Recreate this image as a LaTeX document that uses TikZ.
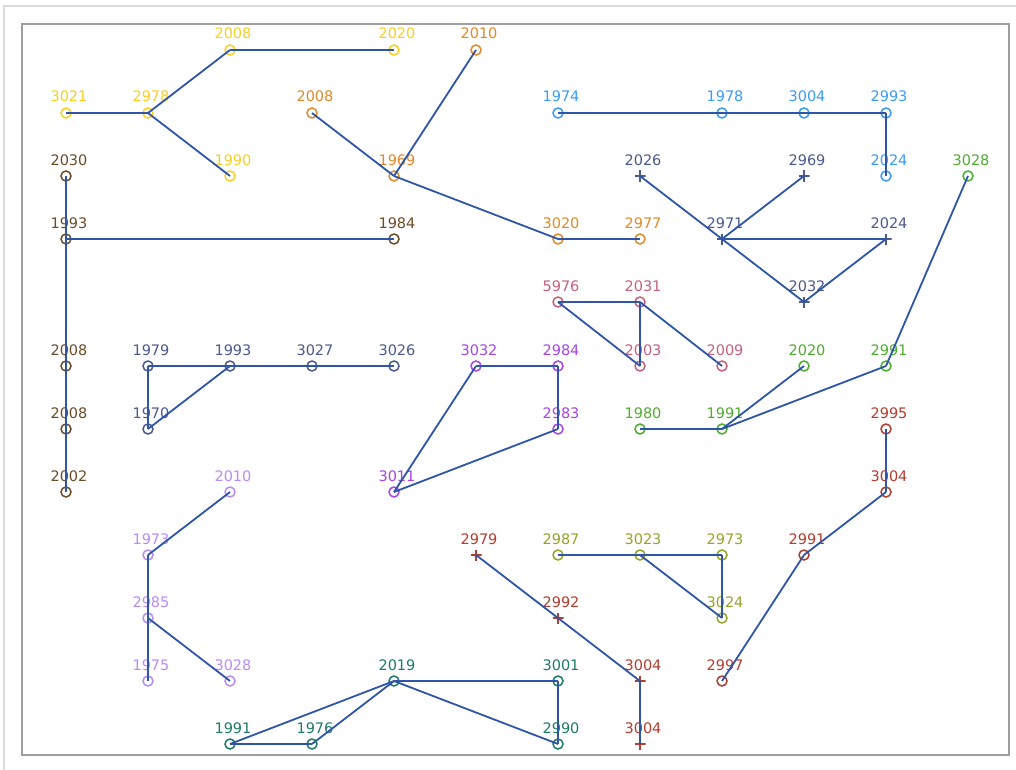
\documentclass[tikz,border=0pt]{standalone}
\usepackage{fontspec}
\setmainfont{DejaVu Sans}
\definecolor{cy}{HTML}{FAD020}
\definecolor{co}{HTML}{E08A2A}
\definecolor{cb}{HTML}{6E4B27}
\definecolor{cl}{HTML}{3A9BFA}
\definecolor{cn}{HTML}{4B5A8E}
\definecolor{cg}{HTML}{4FAE2F}
\definecolor{cp}{HTML}{C4617F}
\definecolor{cu}{HTML}{A845E8}
\definecolor{cv}{HTML}{B98CF5}
\definecolor{cr}{HTML}{B33D30}
\definecolor{cw}{HTML}{95A52A}
\definecolor{ct}{HTML}{1F7A68}
\definecolor{ce}{HTML}{2E55A8}
\tikzset{
  cmark/.style={circle, draw=#1, line width=1.5pt, minimum size=10pt, inner sep=0pt},
  pmark/.style={rectangle, minimum size=11pt, inner sep=0pt,
    path picture={\draw[#1, line width=1.5pt]
      (path picture bounding box.north) -- (path picture bounding box.south)
      (path picture bounding box.west) -- (path picture bounding box.east);}},
  lab/.style={anchor=base, inner sep=0pt, font=\fontsize{14.5}{17}\selectfont},
  edge/.style={draw=ce, line width=1.8pt},
}
\def\rowY{{50,113,176,239,302,366,429,492,555,618,681,744}}
\newcommand\Cn[5]{\pgfmathsetmacro\yy{\rowY[#3]}\pgfmathsetmacro\xx{66+82*#2}%
  \node[cmark=#4] (#1) at (\xx,\yy) {};
  \node[lab, text=#4] (#1l) at ([xshift=3pt,yshift=11pt]#1.center) {#5};}
\newcommand\Pn[5]{\pgfmathsetmacro\yy{\rowY[#3]}\pgfmathsetmacro\xx{66+82*#2}%
  \node[pmark=#4] (#1) at (\xx,\yy) {};
  \node[lab, text=#4] (#1l) at ([xshift=3pt,yshift=11pt]#1.center) {#5};}
\begin{document}
\begin{tikzpicture}[x=1pt,y=-1pt]
\useasboundingbox (0,0) rectangle (1016,770);
\fill[white] (0,0) rectangle (1016,770);
\draw[black!14, line width=1.2pt] (4,770) -- (4,6) -- (1016,6);
\draw[black!38, line width=1.8pt] (22,24) rectangle (1009,755);
% yellow
\Cn{ya}{0}{1}{cy}{3021}
\Cn{yb}{1}{1}{cy}{2978}
\Cn{yc}{2}{0}{cy}{2008}
\Cn{yd}{4}{0}{cy}{2020}
\Cn{ye}{2}{2}{cy}{1990}
% orange
\Cn{oa}{3}{1}{co}{2008}
\Cn{ob}{5}{0}{co}{2010}
\Cn{oc}{4}{2}{co}{1969}
\Cn{od}{6}{3}{co}{3020}
\Cn{oe}{7}{3}{co}{2977}
% brown
\Cn{ba}{0}{2}{cb}{2030}
\Cn{bb}{0}{3}{cb}{1993}
\Cn{bc}{4}{3}{cb}{1984}
\Cn{bd}{0}{5}{cb}{2008}
\Cn{be}{0}{6}{cb}{2008}
\Cn{bf}{0}{7}{cb}{2002}
% light blue
\Cn{la}{6}{1}{cl}{1974}
\Cn{lb}{8}{1}{cl}{1978}
\Cn{lc}{9}{1}{cl}{3004}
\Cn{ld}{10}{1}{cl}{2993}
\Cn{le}{10}{2}{cl}{2024}
% navy plus
\Pn{na}{7}{2}{cn}{2026}
\Pn{nb}{9}{2}{cn}{2969}
\Pn{nc}{8}{3}{cn}{2971}
\Pn{nd}{10}{3}{cn}{2024}
\Pn{ne}{9}{4}{cn}{2032}
% navy circles
\Cn{ma}{1}{5}{cn}{1979}
\Cn{mb}{2}{5}{cn}{1993}
\Cn{mc}{3}{5}{cn}{3027}
\Cn{md}{4}{5}{cn}{3026}
\Cn{me}{1}{6}{cn}{1970}
% green
\Cn{ga}{11}{2}{cg}{3028}
\Cn{gb}{9}{5}{cg}{2020}
\Cn{gc}{10}{5}{cg}{2991}
\Cn{gd}{7}{6}{cg}{1980}
\Cn{ge}{8}{6}{cg}{1991}
% pink
\Cn{pa}{6}{4}{cp}{5976}
\Cn{pb}{7}{4}{cp}{2031}
\Cn{pc}{7}{5}{cp}{2003}
\Cn{pd}{8}{5}{cp}{2009}
% purple
\Cn{ua}{5}{5}{cu}{3032}
\Cn{ub}{6}{5}{cu}{2984}
\Cn{uc}{6}{6}{cu}{2983}
\Cn{ud}{4}{7}{cu}{3011}
% lavender
\Cn{va}{2}{7}{cv}{2010}
\Cn{vb}{1}{8}{cv}{1973}
\Cn{vc}{1}{9}{cv}{2985}
\Cn{vd}{1}{10}{cv}{1975}
\Cn{ve}{2}{10}{cv}{3028}
% red plus
\Pn{ra}{5}{8}{cr}{2979}
\Pn{rb}{6}{9}{cr}{2992}
\Pn{rc}{7}{10}{cr}{3004}
\Pn{rd}{7}{11}{cr}{3004}
% red circles
\Cn{sa}{10}{6}{cr}{2995}
\Cn{sb}{10}{7}{cr}{3004}
\Cn{sc}{9}{8}{cr}{2991}
\Cn{sd}{8}{10}{cr}{2997}
% olive
\Cn{wa}{6}{8}{cw}{2987}
\Cn{wb}{7}{8}{cw}{3023}
\Cn{wc}{8}{8}{cw}{2973}
\Cn{wd}{8}{9}{cw}{3024}
% teal
\Cn{ta}{4}{10}{ct}{2019}
\Cn{tb}{6}{10}{ct}{3001}
\Cn{tc}{6}{11}{ct}{2990}
\Cn{td}{2}{11}{ct}{1991}
\Cn{te}{3}{11}{ct}{1976}
% edges
\foreach \a/\b in {ya/yb, yb/yc, yc/yd, yb/ye,
  oa/oc, ob/oc, oc/od, od/oe,
  ba/bb, bb/bd, bd/be, be/bf, bb/bc,
  la/lb, lb/lc, lc/ld, ld/le,
  na/nc, nc/ne, nc/nb, nc/nd, nd/ne,
  ma/mb, mb/mc, mc/md, ma/me, me/mb,
  ga/gc, gc/ge, gb/ge, gd/ge,
  pa/pb, pa/pc, pb/pc, pb/pd,
  ua/ub, ub/uc, uc/ud, ua/ud,
  va/vb, vb/vc, vc/vd, vc/ve,
  ra/rb, rb/rc, rc/rd,
  sa/sb, sb/sc, sc/sd,
  wa/wb, wb/wc, wc/wd, wb/wd,
  ta/tb, tb/tc, ta/tc, ta/td, ta/te, td/te}
  \draw[edge] (\a.center) -- (\b.center);
\end{tikzpicture}
\end{document}
